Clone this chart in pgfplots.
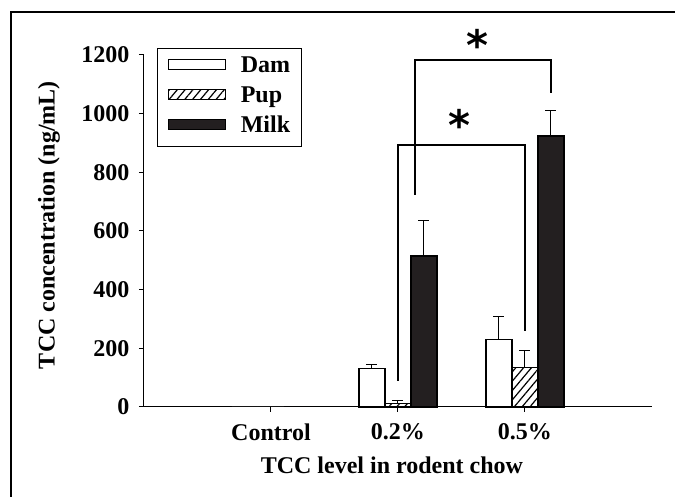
\documentclass[border=0pt]{standalone}
\usepackage{pgfplots}
\pgfplotsset{compat=1.18}
\usepackage{fontspec}
\setmainfont{Liberation Serif}
\newfontfamily\astfont{DejaVu Sans}
\usetikzlibrary{patterns.meta}
\definecolor{milk}{HTML}{231F20}
\pgfplotsset{mylegend/.style={legend image code/.code={\draw[#1] (0pt,-2pt) rectangle (57pt,8pt);}}}
\begin{document}
\begin{tikzpicture}
\useasboundingbox (-144pt,-90pt) rectangle (531pt,407pt);
\draw[line width=2.7pt] (-133pt,-100pt) -- (-133pt,395pt) -- (540pt,395pt);
\begin{axis}[
 scale only axis, width=508pt, height=352pt,
 xmin=0, xmax=4, ymin=0, ymax=1200,
 axis x line*=bottom, axis y line*=left,
 axis line style={line width=1pt},
 xtick={1,2,3}, xticklabels={Control,0.2\%,0.5\%},
 ytick={0,200,...,1200},
 tick align=outside, major tick length=5pt,
 tick style={line width=1pt, black},
 ticklabel style={font=\fontsize{24}{28}\selectfont\bfseries},
 xticklabel style={yshift=-8pt},
 yticklabel style={xshift=-6pt},
 /pgf/number format/assume math mode=true,
 /pgf/number format/1000 sep={},
 label style={font=\fontsize{24}{28}\selectfont\bfseries},
 xlabel={TCC level in rodent chow},
 ylabel={TCC concentration (ng/mL)},
 xlabel style={at={(axis description cs:0.488,-0.165)}, anchor=center},
 ylabel style={at={(axis description cs:-0.187,0.517)}, anchor=center},
 ybar, bar width=26pt,
 clip=false,
 legend style={at={(axis description cs:0.0256,1.02)}, anchor=north west,
   draw=black, line width=1pt, font=\fontsize{24}{28}\selectfont\bfseries,
   cells={anchor=west}, row sep=10pt, inner xsep=10pt, inner ysep=9pt,
   nodes={inner sep=1pt, text height=14pt, text depth=4pt},
   /tikz/every odd column/.style={column sep=14pt}},
 error bars/error bar style={line width=1pt, black},
]
\addplot[draw=black, line width=1.3pt, fill=white, bar shift=-26pt, mylegend,
  error bars/.cd, y dir=plus, y explicit, error mark=-, error mark options={rotate=90, line width=1pt, mark size=5.5pt, black}]
  coordinates {(2,132) +- (0,14) (3,231) +- (0,77)};
\addlegendentry{Dam}
\addplot[draw=black, line width=1.3pt, fill=white, pattern={Lines[angle=50,distance=6pt,line width=1.2pt]}, pattern color=black, bar shift=0pt, mylegend,
  error bars/.cd, y dir=plus, y explicit, error mark=-, error mark options={rotate=90, line width=1pt, mark size=5.5pt, black}]
  coordinates {(2,11) +- (0,10) (3,134) +- (0,57)};
\addlegendentry{Pup}
\addplot[draw=black, line width=1.3pt, fill=milk, bar shift=26pt, mylegend,
  error bars/.cd, y dir=plus, y explicit, error mark=-, error mark options={rotate=90, line width=1pt, mark size=5.5pt, black}]
  coordinates {(2,515) +- (0,122) (3,924) +- (0,88)};
\addlegendentry{Milk}
\addplot[forget plot, draw=black, line width=1pt, fill=white, bar shift=-26pt] coordinates {(1,0)};
\addplot[forget plot, draw=black, line width=1pt, fill=white, bar shift=0pt] coordinates {(1,0)};
\addplot[forget plot, draw=black, line width=1pt, fill=milk, bar shift=26pt] coordinates {(1,0)};
\addplot[sharp plot, forget plot, black, line width=2pt, no marks] coordinates {(2,89) (2,893) (3,893) (3,259)};
\addplot[sharp plot, forget plot, black, line width=2pt, no marks] coordinates {(2.134,723) (2.134,1183) (3.205,1183) (3.205,1070)};
\node[font=\astfont\bfseries\fontsize{42}{42}\selectfont, inner sep=0pt] at (axis cs:2.622,1234) {*};
\node[font=\astfont\bfseries\fontsize{42}{42}\selectfont, inner sep=0pt] at (axis cs:2.488,960) {*};
\end{axis}
\end{tikzpicture}
\end{document}
